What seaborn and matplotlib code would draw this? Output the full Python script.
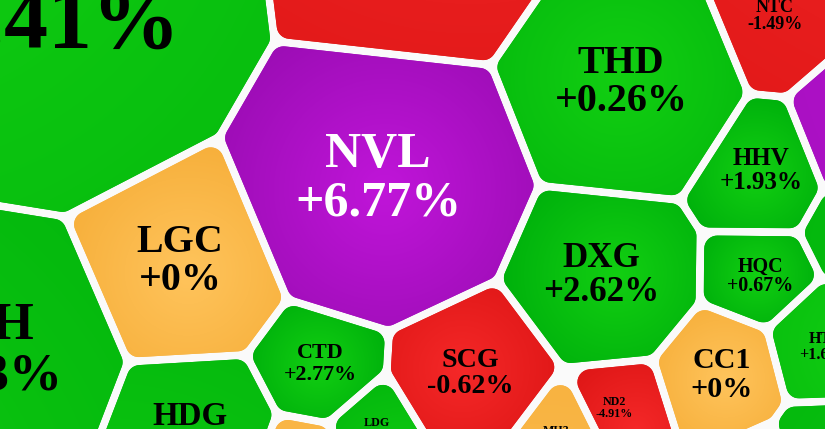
import numpy as np
import matplotlib

matplotlib.use("Agg")
import matplotlib.pyplot as plt
from matplotlib.patches import PathPatch
from matplotlib.path import Path
import seaborn as sns

# stock heatmap (Voronoi treemap crop); "" = label not visible in the crop
tickers = ["", "", "NVL", "THD", "NTC", "", "HHV", "", "DXG", "HQC", "HTN", "CC1",
           "", "", "ND2", "MH3", "SCG", "LDG", "CTD", "", "HDG", "LGC", "HAH"]
pct_labels = ["+1.41%", "", "+6.77%", "+0.26%", "-1.49%", "", "+1.93%", "", "+2.62%",
              "+0.67%", "+1.65%", "+0%", "", "", "-4.91%", "", "-0.62%", "", "+2.77%",
              "", "", "+0%", "+1.83%"]
status = ["up", "down", "ceil", "up", "down", "ceil", "up", "up", "up", "up", "up", "ref",
          "up", "ref", "down", "ref", "down", "up", "up", "ref", "up", "ref", "up"]

# layout of the crop: cell sites (= label centres, px), power weights, label size (px)
site_x = [34, 405, 378, 621, 775, 870, 761, 860, 601, 760, 826, 722,
          830, 765, 614, 556, 470, 377, 320, 300, 190, 180, -26]
site_y = [-24, -70, 175, 79, 15, 125, 169, 225, 273, 275, 346, 373,
          450, 470, 407, 436, 371, 428, 362, 470, 430, 258, 347]
site_w = [33500, 800, 0, -7900, -17500, -16600, -18560, -20200, -14500, -20680, -19900, -19700,
          -20600, -22200, -20800, -20100, -16300, -20000, -18680, -19500, -15400, -10440, 0]
font_px = [88, 40, 50, 40, 18, 20, 25, 20, 35, 20, 16, 30,
           16, 14, 12, 12, 28, 12, 22, 14, 33, 40, 53]

colors = {
    "up": ("#12cf12", "#00b20c"),
    "down": ("#f52828", "#de1616"),
    "ref": ("#ffc45c", "#f7b03c"),
    "ceil": ("#c015d9", "#9d0db6"),
}

W, H = 825, 429
GAP = 4.0
RADIUS = 13.0


def clip_halfplane(poly, a, b, c):
    out = []
    n = len(poly)
    for k in range(n):
        p, q = poly[k], poly[(k + 1) % n]
        fp = a * p[0] + b * p[1] - c
        fq = a * q[0] + b * q[1] - c
        if fp <= 0:
            out.append(p)
        if fp * fq < 0:
            t = fp / (fp - fq)
            out.append((p[0] + t * (q[0] - p[0]), p[1] + t * (q[1] - p[1])))
    return out


def power_cell(i, pts, w, inset):
    poly = [(-700.0, -700.0), (1500.0, -700.0), (1500.0, 1100.0), (-700.0, 1100.0)]
    pi = pts[i]
    for j in range(len(pts)):
        if j == i:
            continue
        d = pts[j] - pi
        L = np.hypot(d[0], d[1])
        c = (pts[j] @ pts[j] - pi @ pi - w[j] + w[i]) / 2.0
        poly = clip_halfplane(poly, d[0] / L, d[1] / L, c / L - inset)
        if len(poly) < 3:
            return None
    return np.array(poly)


def rounded(poly, r, n_arc=10):
    keep = [poly[0]]
    for p in poly[1:]:
        if np.hypot(*(p - keep[-1])) > 1e-6:
            keep.append(p)
    poly = np.array(keep)
    area = 0.5 * np.sum(poly[:, 0] * np.roll(poly[:, 1], -1) - np.roll(poly[:, 0], -1) * poly[:, 1])
    if area < 0:
        poly = poly[::-1]
    out = []
    m = len(poly)
    for k in range(m):
        prev, cur, nxt = poly[k - 1], poly[k], poly[(k + 1) % m]
        e0, e1 = cur - prev, nxt - cur
        n0 = np.array([e0[1], -e0[0]]) / np.hypot(*e0)
        n1 = np.array([e1[1], -e1[0]]) / np.hypot(*e1)
        a0 = np.arctan2(n0[1], n0[0])
        a1 = np.arctan2(n1[1], n1[0])
        while a1 < a0:
            a1 += 2 * np.pi
        for a in np.linspace(a0, a1, n_arc):
            out.append(cur + r * np.array([np.cos(a), np.sin(a)]))
    return np.array(out)


sns.set_theme(style="white")
plt.rcParams["font.family"] = ["Liberation Serif", "DejaVu Serif"]

fig = plt.figure(figsize=(W / 100, H / 100), dpi=100)
fig.patch.set_facecolor("#fafafa")
ax = fig.add_axes([0, 0, 1, 1])
ax.set_facecolor("#fafafa")

pts = np.column_stack([site_x, site_y]).astype(float)
wts = np.array(site_w, dtype=float)

for i in range(len(pts)):
    core = power_cell(i, pts, wts, GAP + RADIUS)
    if core is None:
        continue
    shape = rounded(core, RADIUS)
    c_in, c_out = colors[status[i]]
    patch = PathPatch(Path(np.vstack([shape, shape[:1]]), closed=True),
                      facecolor=c_out, edgecolor="none", zorder=1)
    ax.add_patch(patch)

    # soft radial shading, lighter towards the middle of the cell
    cmap = sns.blend_palette([c_in, c_out], as_cmap=True)
    x0, y0 = shape.min(axis=0)
    x1, y1 = shape.max(axis=0)
    cx, cy = core.mean(axis=0)
    rmax = np.max(np.hypot(shape[:, 0] - cx, shape[:, 1] - cy))
    gx, gy = np.meshgrid(np.linspace(x0, x1, 90), np.linspace(y0, y1, 90))
    t = np.clip(np.hypot(gx - cx, gy - cy) / rmax, 0, 1)
    im = ax.imshow(t, cmap=cmap, vmin=0, vmax=1, extent=(x0, x1, y1, y0), origin="upper",
                   interpolation="bilinear", aspect="auto", zorder=2)
    im.set_clip_path(patch)

    s = font_px[i]
    fs = s * 0.72
    tc = "white" if status[i] == "ceil" else "black"
    if tickers[i]:
        ax.text(site_x[i], site_y[i] - 0.16 * s, tickers[i], ha="center", va="baseline",
                fontsize=fs, fontweight="bold", color=tc, zorder=3, clip_on=True)
    if pct_labels[i]:
        ax.text(site_x[i], site_y[i] + 0.8 * s, pct_labels[i], ha="center", va="baseline",
                fontsize=fs, fontweight="bold", color=tc, zorder=3, clip_on=True)

ax.set_xlim(0, W)
ax.set_ylim(H, 0)
ax.axis("off")
fig.savefig("out.png", dpi=100, facecolor=fig.get_facecolor())
